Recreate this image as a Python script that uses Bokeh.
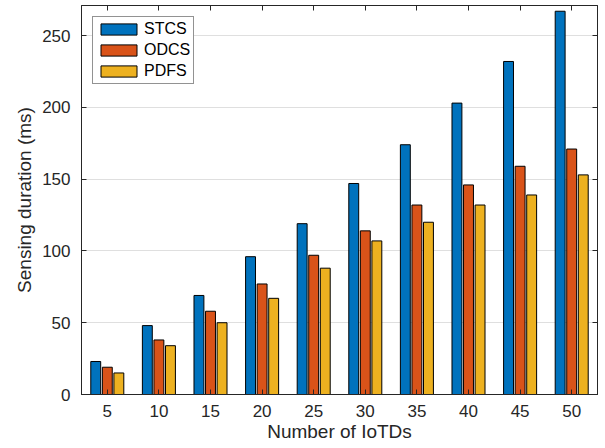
from bokeh.plotting import figure
from bokeh.models import ColumnDataSource, LinearAxis, FixedTicker, Range1d, Legend, LegendItem
from bokeh.transform import dodge
from bokeh.embed import file_html
from bokeh.resources import INLINE

n_iotds = [5, 10, 15, 20, 25, 30, 35, 40, 45, 50]
stcs = [23, 48, 69, 96, 119, 147, 174, 203, 232, 267]
odcs = [19, 38, 58, 77, 97, 114, 132, 146, 159, 171]
pdfs = [15, 34, 50, 67, 88, 107, 120, 132, 139, 153]
y_ticks = [0, 50, 100, 150, 200, 250]

src = ColumnDataSource(dict(n=n_iotds, stcs=stcs, odcs=odcs, pdfs=pdfs))

FONT = "Liberation Sans"
AX = "#262626"

p = figure(width=605, height=448, output_backend="svg", toolbar_location=None,
           x_range=Range1d(2.5, 52.5), y_range=Range1d(0, 271),
           min_border_left=81, min_border_right=8, min_border_top=5, min_border_bottom=54)
p.outline_line_color = AX
p.outline_line_width = 1

colors = ["#0072BD", "#D95319", "#EDB120"]
names = ["STCS", "ODCS", "PDFS"]
cols = ["stcs", "odcs", "pdfs"]
offs = [-1.12, 0.0, 1.12]
renderers = []
for c, col, off in zip(colors, cols, offs):
    r = p.vbar(x=dodge("n", off), top=col, width=0.96, source=src,
               fill_color=c, line_color="black", line_width=1)
    renderers.append(r)

for ax in (p.xaxis[0], p.yaxis[0]):
    ax.axis_line_color = AX
    ax.major_tick_line_color = AX
    ax.minor_tick_line_color = None
    ax.major_tick_in = 5
    ax.major_tick_out = 0
    ax.major_label_text_font = FONT
    ax.major_label_text_font_size = "17px"
    ax.major_label_text_color = AX
    ax.axis_label_text_font = FONT
    ax.axis_label_text_font_size = "19px"
    ax.axis_label_text_font_style = "normal"
    ax.axis_label_text_color = AX

p.xaxis.ticker = FixedTicker(ticks=n_iotds)
p.yaxis.ticker = FixedTicker(ticks=y_ticks)
p.xaxis.axis_label = "Number of IoTDs"
p.yaxis.axis_label = "Sensing duration (ms)"
p.xaxis.major_label_standoff = 10
p.yaxis.major_label_standoff = 11
p.xaxis.axis_label_standoff = 1
p.yaxis.axis_label_standoff = 4

top = LinearAxis(ticker=FixedTicker(ticks=n_iotds),
                 major_label_overrides={t: "" for t in n_iotds},
                 major_tick_in=5, major_tick_out=0, minor_tick_line_color=None,
                 axis_line_color=AX, major_tick_line_color=AX, major_label_standoff=0)
right = LinearAxis(ticker=FixedTicker(ticks=y_ticks),
                   major_label_overrides={t: "" for t in y_ticks},
                   major_tick_in=5, major_tick_out=0, minor_tick_line_color=None,
                   axis_line_color=AX, major_tick_line_color=AX, major_label_standoff=0)
p.add_layout(top, "above")
p.add_layout(right, "right")

p.xgrid.grid_line_color = None
p.ygrid.grid_line_color = "#dfdfdf"
p.ygrid.ticker = FixedTicker(ticks=y_ticks)

legend = Legend(items=[LegendItem(label=nm, renderers=[r]) for nm, r in zip(names, renderers)],
                location="top_left")
legend.glyph_width = 45
legend.glyph_height = 14
legend.label_text_font = FONT
legend.label_text_font_size = "16px"
legend.label_text_color = "black"
legend.label_standoff = 3
legend.label_height = 14
legend.spacing = 3
legend.padding = 3
legend.margin = 11
legend.border_line_color = AX
legend.border_line_width = 1
legend.background_fill_alpha = 1
p.add_layout(legend)

open("out.html", "w").write(file_html(p, INLINE))
